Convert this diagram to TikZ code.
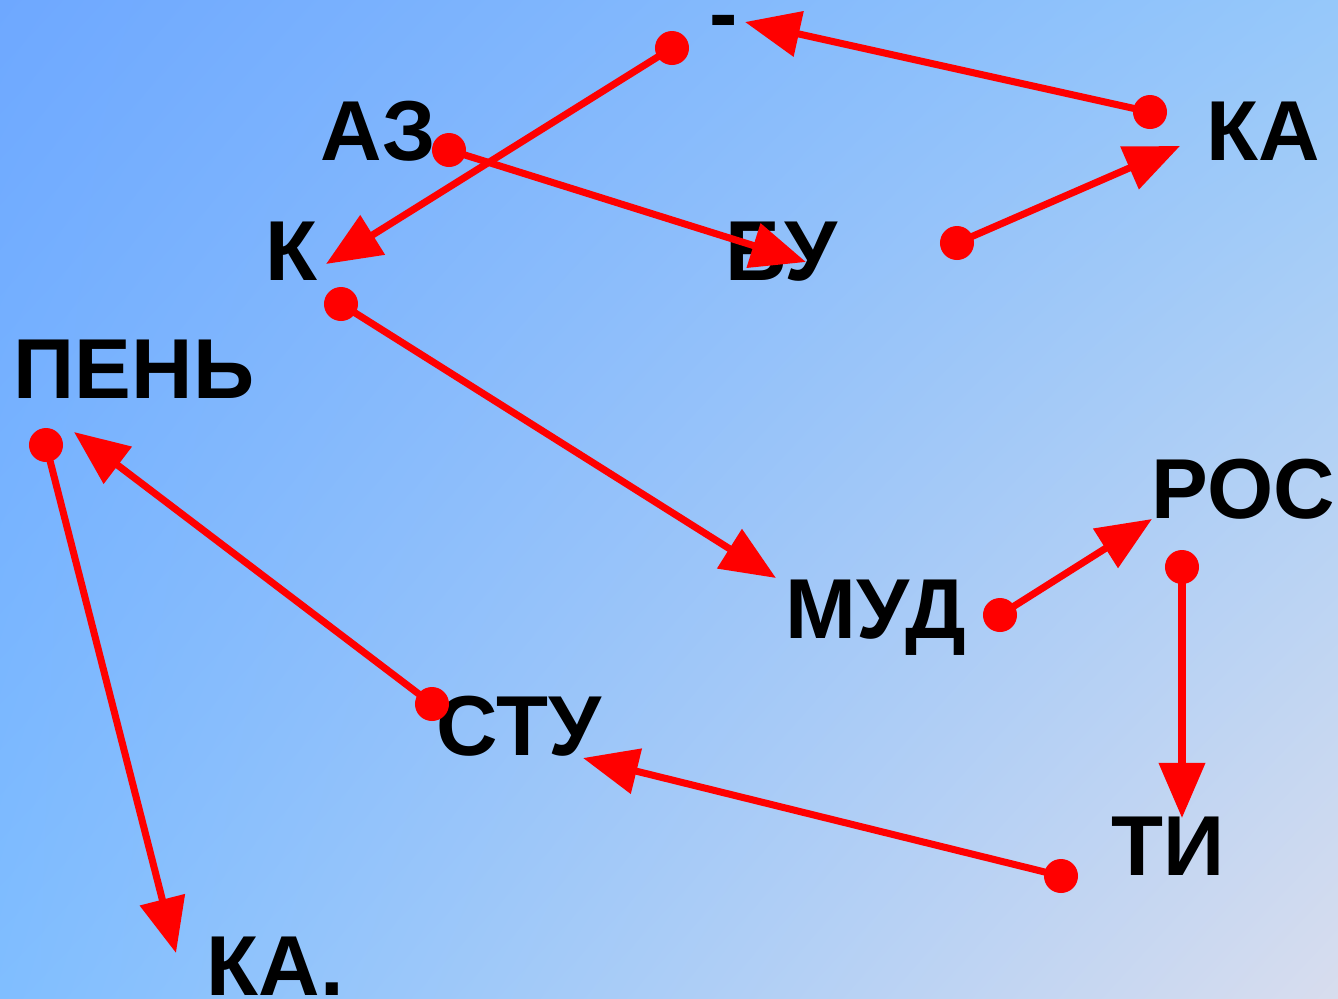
\documentclass[tikz,border=0pt]{standalone}
\usepackage{fontspec}
\setmainfont{Liberation Sans}
\usetikzlibrary{arrows.meta,shadings}
\definecolor{bgtl}{RGB}{110,168,255}
\definecolor{bgtr}{RGB}{150,200,250}
\definecolor{bgbl}{RGB}{128,190,255}
\definecolor{bgbr}{RGB}{216,221,238}

\begin{document}
\begin{tikzpicture}[x=0.01cm, y=-0.01cm,
      word/.style={anchor=base west, inner sep=0pt, font=\fontsize{24.2}{28}\selectfont\bfseries},
      arr/.style={draw=red, line width=2pt, -{Triangle[length=0.55cm,width=0.45cm]}},
      dot/.style={fill=red}
      ]
      \shade[upper left=bgtl, upper right=bgtr, lower left=bgbl, lower right=bgbr]
        (0,0) rectangle (1338,999);
      \useasboundingbox (0,0) rectangle (1338,999);

      % words
      \node[word] (dash) at (709,42) {-};
      \node[word] (az) at (320,160) {АЗ};
      \node[word] (ka) at (1206,160) {КА};
      \node[word] (k) at (265,280) {К};
      \node[word] (bu) at (725,280) {БУ};
      \node[word] (pen) at (13,398) {ПЕНЬ};
      \node[word] (ros) at (1151,518) {РОС};
      \node[word] (mud) at (785,638) {МУД};
      \node[word] (stu) at (436,755) {СТУ};
      \node[word] (ti) at (1111,875) {ТИ};
      \node[word] (kadot) at (206,995) {КА.};

      % start dots and tips
      \coordinate (s1) at (1150,112); \coordinate (e1) at (745,22);
      \coordinate (s2) at (672,48);   \coordinate (e2) at (326,264);
      \coordinate (s3) at (449,150);  \coordinate (e3) at (806,262);
      \coordinate (s4) at (957,243);  \coordinate (e4) at (1180,146);
      \coordinate (s5) at (341,304);  \coordinate (e5) at (776,578);
      \coordinate (s6) at (1000,615); \coordinate (e6) at (1152,519);
      \coordinate (s7) at (1182,567); \coordinate (e7) at (1182,818);
      \coordinate (s8) at (1061,876); \coordinate (e8) at (583,758);
      \coordinate (s9) at (432,704);  \coordinate (e9) at (74,432);
      \coordinate (s10) at (46,445);  \coordinate (e10) at (176,953);

      \foreach \i in {1,...,10} {
        \draw[arr] (s\i) -- (e\i);
        \fill[dot] (s\i) circle[radius=0.17cm];
      }
    \end{tikzpicture}
\end{document}
